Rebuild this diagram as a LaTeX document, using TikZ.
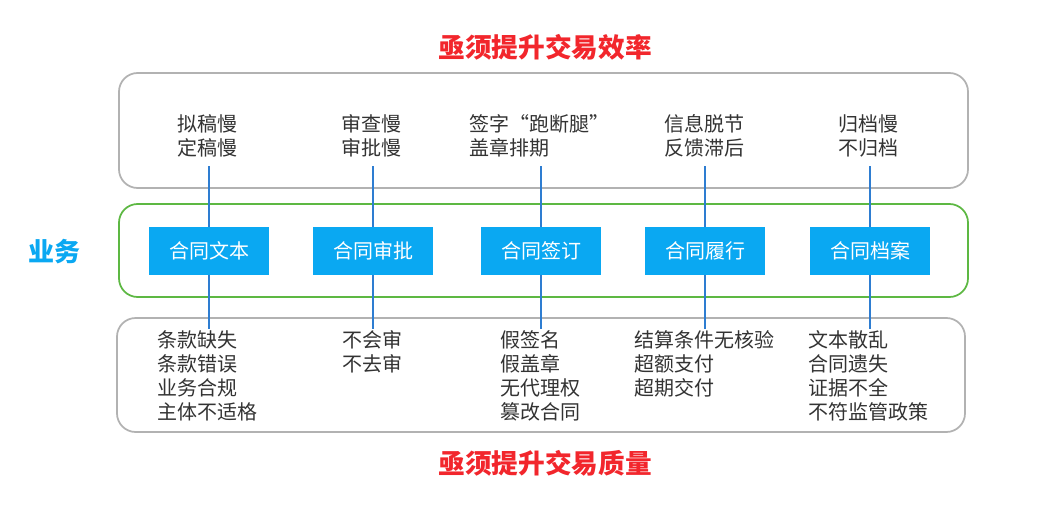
\documentclass[tikz,border=0pt]{standalone}
\usepackage{fontspec}
\setmainfont{Noto Sans CJK SC}
\begin{document}
\begin{tikzpicture}[x=0.75pt,y=-0.75pt,
  frame/.style={draw=black!30,line width=1.3pt,rounded corners=14pt},
  biz/.style={fill=bblue,text=white,minimum width=90pt,minimum height=36pt,inner sep=0pt,font=\fontsize{15}{18}\selectfont},
  txt/.style={font=\fontsize{15}{18}\selectfont,text=black!80,inner sep=0pt},
  conn/.style={draw=lblue,line width=1.2pt},
  ttl/.style={font=\fontsize{20}{24}\selectfont\bfseries,text=tred}]
\definecolor{bblue}{HTML}{0AA8F2}
\definecolor{lblue}{HTML}{2E7DD1}
\definecolor{tred}{HTML}{F2262C}
\definecolor{gframe}{HTML}{5DB843}
\useasboundingbox (0,0) rectangle (1038,510);
\fill[white] (0,0) rectangle (1038,510);
\node[ttl] (t1) at (545,47) {亟须提升交易效率};
\node[ttl] (t2) at (545,463) {亟须提升交易质量};
\node[font=\fontsize{19.5}{22}\selectfont\bfseries,text=bblue] (yw) at (54,252) {业务};
\draw[frame] (119,73) rectangle (968,188);
\draw[frame,draw=gframe] (119,204) rectangle (968,297);
\draw[frame] (117,318) rectangle (965,432);
\foreach \i/\x/\n in {1/209/合同文本,2/373/合同审批,3/541/合同签订,4/705/合同履行,5/870/合同档案}{
  \node[biz] (b\i) at (\x,251) {\n};
  \coordinate (u\i) at (\x,166);
  \coordinate (d\i) at (\x,329);
  \draw[conn] (u\i) -- (b\i.north);
  \draw[conn] (b\i.south) -- (d\i);
}
\node[txt,align=center,anchor=north] (p1) at (207,114) {拟稿慢\\定稿慢};
\node[txt,align=center,anchor=north] (p2) at (371,114) {审查慢\\审批慢};
\node[txt,align=left,anchor=north west] (p3) at (469,114) {签字“跑断腿”\\盖章排期};
\node[txt,align=center,anchor=north] (p4) at (704,114) {信息脱节\\反馈滞后};
\node[txt,align=center,anchor=north] (p5) at (868,114) {归档慢\\不归档};
\node[txt,align=left,anchor=north west] (q1) at (157,330) {条款缺失\\条款错误\\业务合规\\主体不适格};
\node[txt,align=left,anchor=north west] (q2) at (342,330) {不会审\\不去审};
\node[txt,align=left,anchor=north west] (q3) at (500,330) {假签名\\假盖章\\无代理权\\篡改合同};
\node[txt,align=left,anchor=north west] (q4) at (634,330) {结算条件无核验\\超额支付\\超期交付};
\node[txt,align=left,anchor=north west] (q5) at (808,330) {文本散乱\\合同遗失\\证据不全\\不符监管政策};
\end{tikzpicture}
\end{document}
